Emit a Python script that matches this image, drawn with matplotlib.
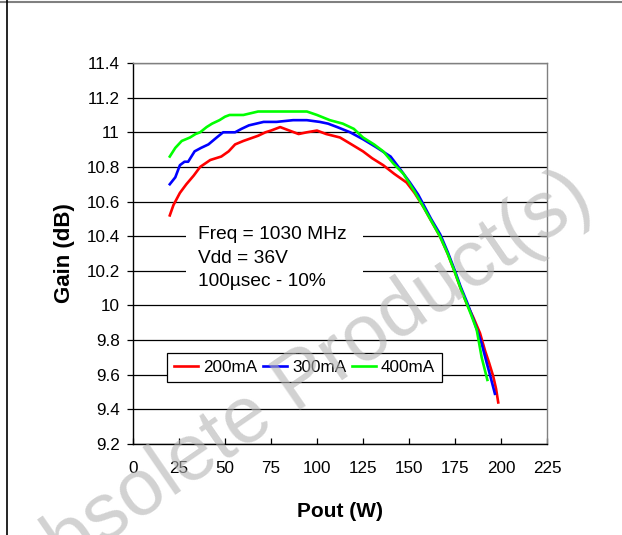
import matplotlib
matplotlib.use("Agg")
import matplotlib.pyplot as plt
from matplotlib.lines import Line2D
from matplotlib.patches import Rectangle

plt.rcParams['font.family'] = ['Liberation Sans', 'DejaVu Sans']

# Data (Pout in W, Gain in dB)
pout_200 = [20, 22, 25.5, 29, 33, 36.5, 42, 48, 52, 55.5, 60, 64, 68, 72, 75, 80, 85, 90,
            94.5, 100, 105, 112.5, 118, 125, 130, 136, 142, 148.7, 153, 157.8, 162, 166.8,
            171, 175, 178, 181.4, 185, 188.6, 191.3, 193.5, 195.8, 197.3, 198.5]
gain_200 = [10.52, 10.58, 10.65, 10.70, 10.75, 10.80, 10.84, 10.86, 10.89, 10.93, 10.95,
            10.965, 10.98, 11.00, 11.01, 11.03, 11.01, 10.99, 11.00, 11.01, 10.99, 10.97,
            10.935, 10.89, 10.85, 10.81, 10.76, 10.71, 10.65, 10.57, 10.49, 10.40, 10.30,
            10.19, 10.10, 10.01, 9.93, 9.84, 9.74, 9.67, 9.59, 9.52, 9.44]

pout_300 = [20, 23, 25.5, 28, 30, 33.5, 37, 41, 45.5, 49, 52, 55.5, 59, 63, 67, 71, 78, 87,
            94.5, 101.5, 106, 111, 118, 125, 132, 140, 145, 150.5, 155, 158, 162, 167, 171,
            175, 178, 181.5, 185, 189.5, 192.2, 194.5, 196.7]
gain_300 = [10.70, 10.74, 10.81, 10.83, 10.83, 10.89, 10.91, 10.93, 10.97, 11.00, 11.00,
            11.00, 11.02, 11.04, 11.05, 11.06, 11.06, 11.07, 11.07, 11.06, 11.05, 11.03,
            11.00, 10.96, 10.915, 10.86, 10.79, 10.71, 10.64, 10.58, 10.50, 10.41, 10.31,
            10.20, 10.11, 10.02, 9.92, 9.78, 9.67, 9.58, 9.49]

pout_400 = [20, 23, 26.5, 31, 34, 36.5, 40, 43, 47, 50, 52.5, 56, 60, 64, 68, 72, 76, 85,
            94.5, 100, 107, 114, 120, 125, 131, 136, 141.5, 147, 152.3, 157.8, 162, 166.8,
            171, 175, 178, 181.4, 184, 186.8, 189.5, 192.6]
gain_400 = [10.86, 10.91, 10.95, 10.97, 10.99, 11.00, 11.03, 11.05, 11.07, 11.09, 11.10,
            11.10, 11.10, 11.11, 11.12, 11.12, 11.12, 11.12, 11.12, 11.10, 11.07, 11.05,
            11.02, 10.97, 10.93, 10.89, 10.82, 10.76, 10.67, 10.57, 10.49, 10.40, 10.30,
            10.19, 10.10, 10.01, 9.94, 9.86, 9.70, 9.57]

series_labels = ['200mA', '300mA', '400mA']
x_ticks = [0, 25, 50, 75, 100, 125, 150, 175, 200, 225]
y_ticks = [9.2, 9.4, 9.6, 9.8, 10, 10.2, 10.4, 10.6, 10.8, 11, 11.2, 11.4]
y_tick_labels = ['9.2', '9.4', '9.6', '9.8', '10', '10.2', '10.4', '10.6', '10.8', '11',
                 '11.2', '11.4']

fig = plt.figure(figsize=(6.22, 5.35), dpi=100)
ax = fig.add_axes([0.2138, 0.1701, 0.6656, 0.7121])

ax.plot(pout_200, gain_200, color='#ff0000', lw=1.9, label=series_labels[0], zorder=4)
ax.plot(pout_300, gain_300, color='#0000ff', lw=1.9, label=series_labels[1], zorder=4)
ax.plot(pout_400, gain_400, color='#00ff00', lw=1.9, label=series_labels[2], zorder=4)

ax.set_xlim(0, 225)
ax.set_ylim(9.2, 11.4)
ax.set_xticks(x_ticks)
ax.set_yticks(y_ticks)
ax.set_yticklabels(y_tick_labels)
ax.yaxis.grid(True, color='black', lw=0.9)
ax.set_axisbelow(True)

ax.tick_params(axis='x', direction='in', length=4, width=0.9, pad=12, labelsize=12.3)
ax.tick_params(axis='y', direction='out', length=4.5, width=0.9, pad=5, labelsize=12.3)
ax.spines['top'].set_color('#808080')
ax.spines['right'].set_color('#808080')
for s in ['left', 'bottom']:
    ax.spines[s].set_color('black')
for s in ax.spines.values():
    s.set_linewidth(1.0)

ax.set_xlabel('Pout (W)', fontsize=15, fontweight='bold', labelpad=19)
ax.set_ylabel('Gain (dB)', fontsize=16, fontweight='bold', labelpad=8)

# white box behind the condition text (hides the gridlines)
ax.add_patch(Rectangle((28.8, 10.08), 96.2, 0.40, facecolor='white', edgecolor='none',
                       zorder=1.5))
ax.text(35.3, 10.274, 'Freq = 1030 MHz\nVdd = 36V\n100\u00b5sec - 10%', fontsize=13.8,
        ha='left', va='center', linespacing=1.5, zorder=5)

leg = ax.legend(loc='upper left', bbox_to_anchor=(0.082, 0.239), ncol=3, fontsize=12.3,
                frameon=True, fancybox=False, edgecolor='black', framealpha=1,
                handlelength=1.4, handletextpad=0.3, columnspacing=0.35,
                borderpad=0.4, borderaxespad=0)
leg.get_frame().set_linewidth(0.9)
leg.set_zorder(6)

# watermark
fig.text(0.472, 0.274, 'Obsolete Product(s)', fontsize=57, color='#b4b4b4', alpha=0.6,
         rotation=34.5, ha='center', va='center', zorder=10)

# page borders
fig.add_artist(Line2D([0, 1], [0.996, 0.996], color='#808080', lw=1.5))
fig.add_artist(Line2D([7 / 622, 7 / 622], [0, 1], color='black', lw=1.2))

fig.savefig('out.png', dpi=100)
